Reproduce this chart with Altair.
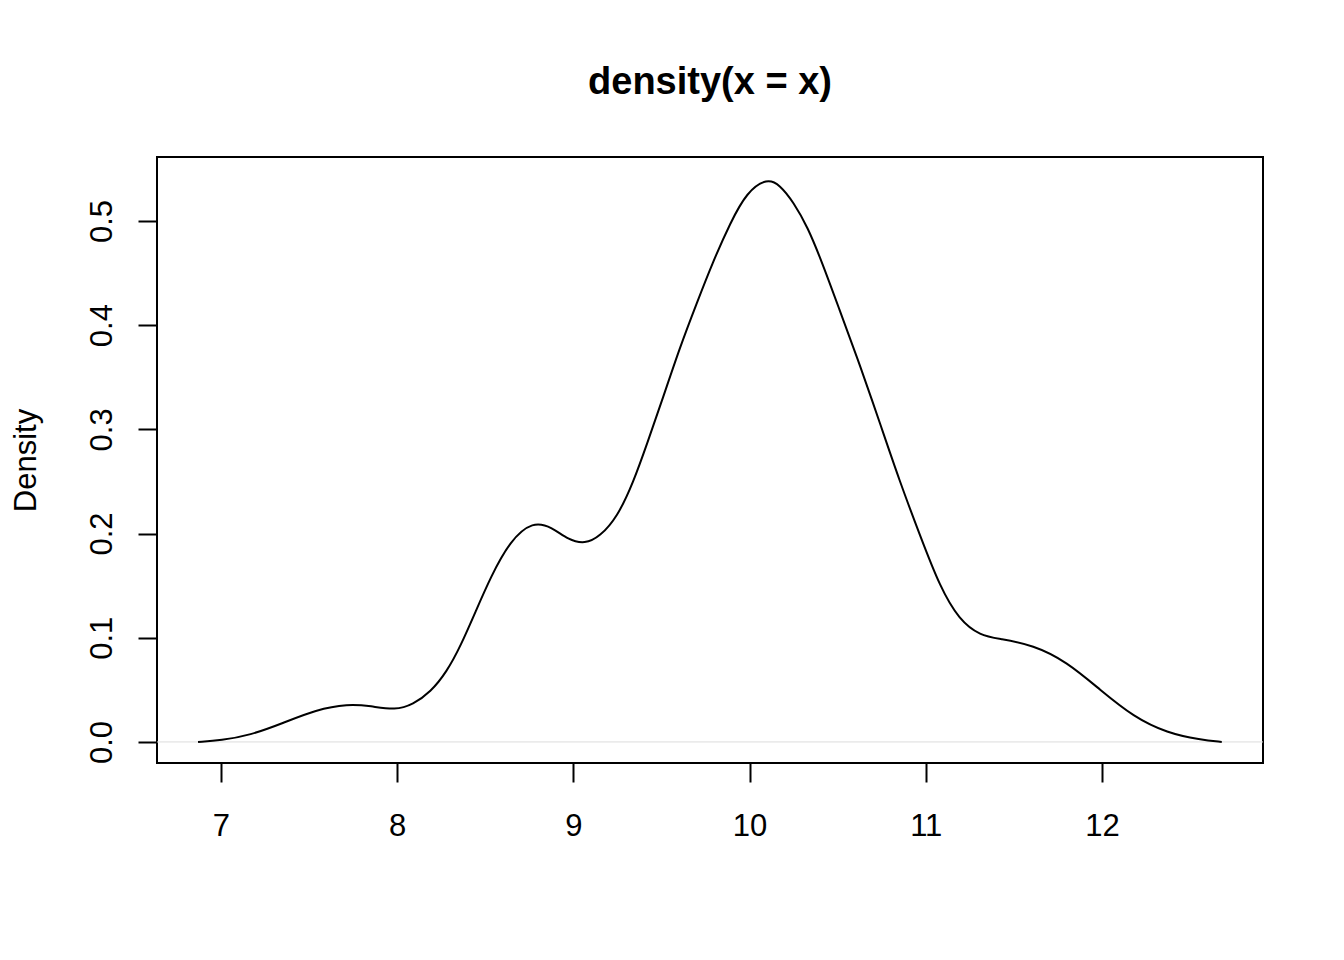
import altair as alt
import pandas as pd

# density curve
xs = [6.87, 7.00, 7.165, 7.35, 7.54, 7.72, 7.85, 7.99, 8.09, 8.19, 8.28, 8.36, 8.45, 8.53,
      8.64, 8.77, 8.88, 8.97, 9.066, 9.15, 9.25, 9.34, 9.42, 9.51, 9.605, 9.70, 9.79, 9.89,
      9.985, 10.10, 10.17, 10.25, 10.33, 10.41, 10.51, 10.63, 10.74, 10.85, 10.97, 11.08,
      11.19, 11.31, 11.42, 11.61, 11.80, 11.99, 12.18, 12.37, 12.56, 12.68]
ys = [0.000, 0.0015, 0.0064, 0.018, 0.031, 0.0365, 0.0345, 0.0305, 0.036, 0.048, 0.067, 0.092,
      0.127, 0.158, 0.193, 0.212, 0.206, 0.194, 0.190, 0.197, 0.216, 0.249, 0.287, 0.331,
      0.379, 0.421, 0.460, 0.498, 0.528, 0.541, 0.535, 0.518, 0.494, 0.461, 0.415, 0.360,
      0.306, 0.251, 0.197, 0.149, 0.117, 0.102, 0.099, 0.093, 0.077, 0.050, 0.024, 0.0086,
      0.002, 0.000]

x_ticks = [7, 8, 9, 10, 11, 12]
y_ticks = [0.0, 0.1, 0.2, 0.3, 0.4, 0.5]

df = pd.DataFrame({"x": xs, "y": ys})
FONT = "Liberation Sans"
W, H = 1106, 606

xscale = alt.Scale(domain=[6.637, 12.914], nice=False, zero=False)
yscale = alt.Scale(domain=[-0.0202, 0.5614], nice=False, zero=False)

line = alt.Chart(df).mark_line(color="black", strokeWidth=2, interpolate="basis").encode(
    x=alt.X("x:Q", scale=xscale,
            axis=alt.Axis(values=x_ticks, title=None, domain=False, grid=False,
                          tickSize=19, tickWidth=2, tickColor="black",
                          labelFont=FONT, labelFontSize=31, labelColor="black",
                          labelPadding=29, labelFlush=False, format="d")),
    y=alt.Y("y:Q", scale=yscale,
            axis=alt.Axis(values=y_ticks, title="Density", domain=False, grid=False,
                          tickSize=19, tickWidth=2, tickColor="black",
                          labelFont=FONT, labelFontSize=31, labelColor="black",
                          labelAngle=270, labelAlign="center", labelBaseline="alphabetic",
                          labelPadding=27, labelFlush=False, format=".1f",
                          titleFont=FONT, titleFontSize=31, titleFontWeight="normal",
                          titleColor="black", titleAngle=270, titleAlign="center",
                          titleBaseline="alphabetic", titleX=-122, titleY=303)),
)

zero = alt.Chart(pd.DataFrame({"y": [0.0]})).mark_rule(color="#dcdcdc", strokeWidth=1).encode(
    y=alt.Y("y:Q", scale=yscale), x=alt.value(0), x2=alt.value(W)
)

chart = alt.layer(zero, line).properties(
    width=W, height=H,
    background="white",
    title=alt.TitleParams("density(x = x)", font=FONT, fontSize=38, fontWeight="bold",
                          color="black", anchor="middle", baseline="alphabetic", offset=25),
    padding={"left": 149, "top": 149, "right": 73, "bottom": 189},
    autosize=alt.AutoSizeParams(type="none"),
).configure_view(stroke="black", strokeWidth=2)

chart.save("out.html", embed_options={"renderer": "svg", "actions": False})
